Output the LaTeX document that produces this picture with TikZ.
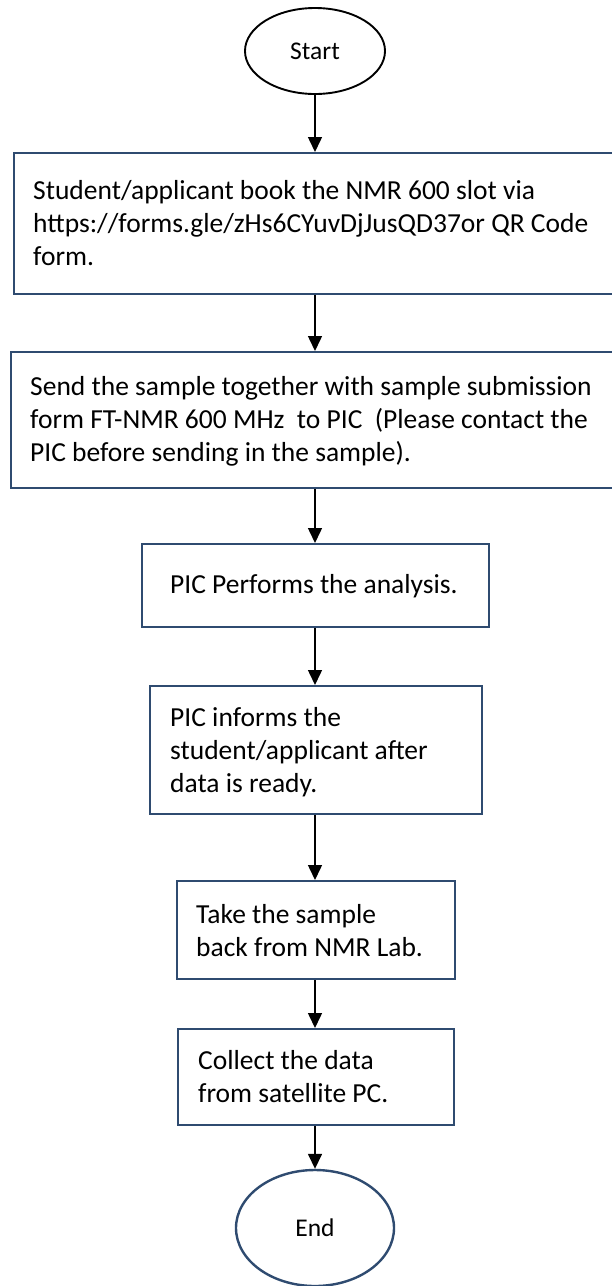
\documentclass[tikz,border=0pt]{standalone}
\usepackage{fontspec}
\setmainfont{Carlito}
\usetikzlibrary{shapes.geometric,arrows.meta}
\definecolor{boxblue}{RGB}{47,75,112}
\tikzset{
  flowbox/.style={draw=boxblue, line width=2.4pt, rectangle, inner sep=0pt, anchor=north west},
  termnode/.style={ellipse, inner sep=0pt, font=\fontsize{25.5}{30}\selectfont},
  boxtext/.style={anchor=base west, inner sep=0pt, font=\fontsize{27.5}{33}\selectfont},
  flowarrow/.style={line width=1.5pt, -{Triangle[width=14pt,length=15pt]}}
}
\begin{document}
\begin{tikzpicture}[x=1pt,y=-1pt]
\clip (0,0) rectangle (612,1286);
\fill[white] (0,0) rectangle (612,1286);
\coordinate (cx) at (315,0);

% terminals
\node[termnode, draw=black, line width=1.9pt, minimum width=140pt, minimum height=86pt] (start) at (315,51) {Start};
\node[termnode, draw=boxblue, line width=2.4pt, minimum width=158pt, minimum height=116pt] (end) at (315,1228) {End};

% boxes
\node[flowbox, minimum width=640pt, minimum height=141pt] (b1) at (13,152) {};
\node[flowbox, minimum width=640pt, minimum height=136pt] (b2) at (10,351) {};
\node[flowbox, minimum width=347pt, minimum height=83pt] (b3) at (141,543) {};
\node[flowbox, minimum width=332pt, minimum height=128pt] (b4) at (149,685) {};
\node[flowbox, minimum width=278pt, minimum height=98pt] (b5) at (176,880) {};
\node[flowbox, minimum width=276pt, minimum height=96pt] (b6) at (177,1028) {};

% texts
\node[boxtext] (t1) at (33,199) {\begin{tabular}[t]{@{}l@{}}Student/applicant book the NMR 600 slot via\\ https://forms.gle/zHs6CYuvDjJusQD37or QR Code\\ form.\end{tabular}};
\node[boxtext] (t2) at (30,395) {\begin{tabular}[t]{@{}l@{}}Send the sample together with sample submission\\ form FT-NMR 600 MHz\ \ to PIC\ \ (Please contact the\\ PIC before sending in the sample).\end{tabular}};
\node[boxtext] (t3) at (170,593) {PIC Performs the analysis.};
\node[boxtext] (t4) at (170,726) {\begin{tabular}[t]{@{}l@{}}PIC informs the\\ student/applicant after\\ data is ready.\end{tabular}};
\node[boxtext] (t5) at (196,923) {\begin{tabular}[t]{@{}l@{}}Take the sample\\ back from NMR Lab.\end{tabular}};
\node[boxtext] (t6) at (198,1069) {\begin{tabular}[t]{@{}l@{}}Collect the data\\ from satellite PC.\end{tabular}};

% connectors
\draw[flowarrow] (start.south) -- (cx |- b1.north);
\draw[flowarrow] (cx |- b1.south) -- (cx |- b2.north);
\draw[flowarrow] (cx |- b2.south) -- (cx |- b3.north);
\draw[flowarrow] (cx |- b3.south) -- (cx |- b4.north);
\draw[flowarrow] (cx |- b4.south) -- (cx |- b5.north);
\draw[flowarrow] (cx |- b5.south) -- (cx |- b6.north);
\draw[flowarrow] (cx |- b6.south) -- (end.north);
\end{tikzpicture}
\end{document}
